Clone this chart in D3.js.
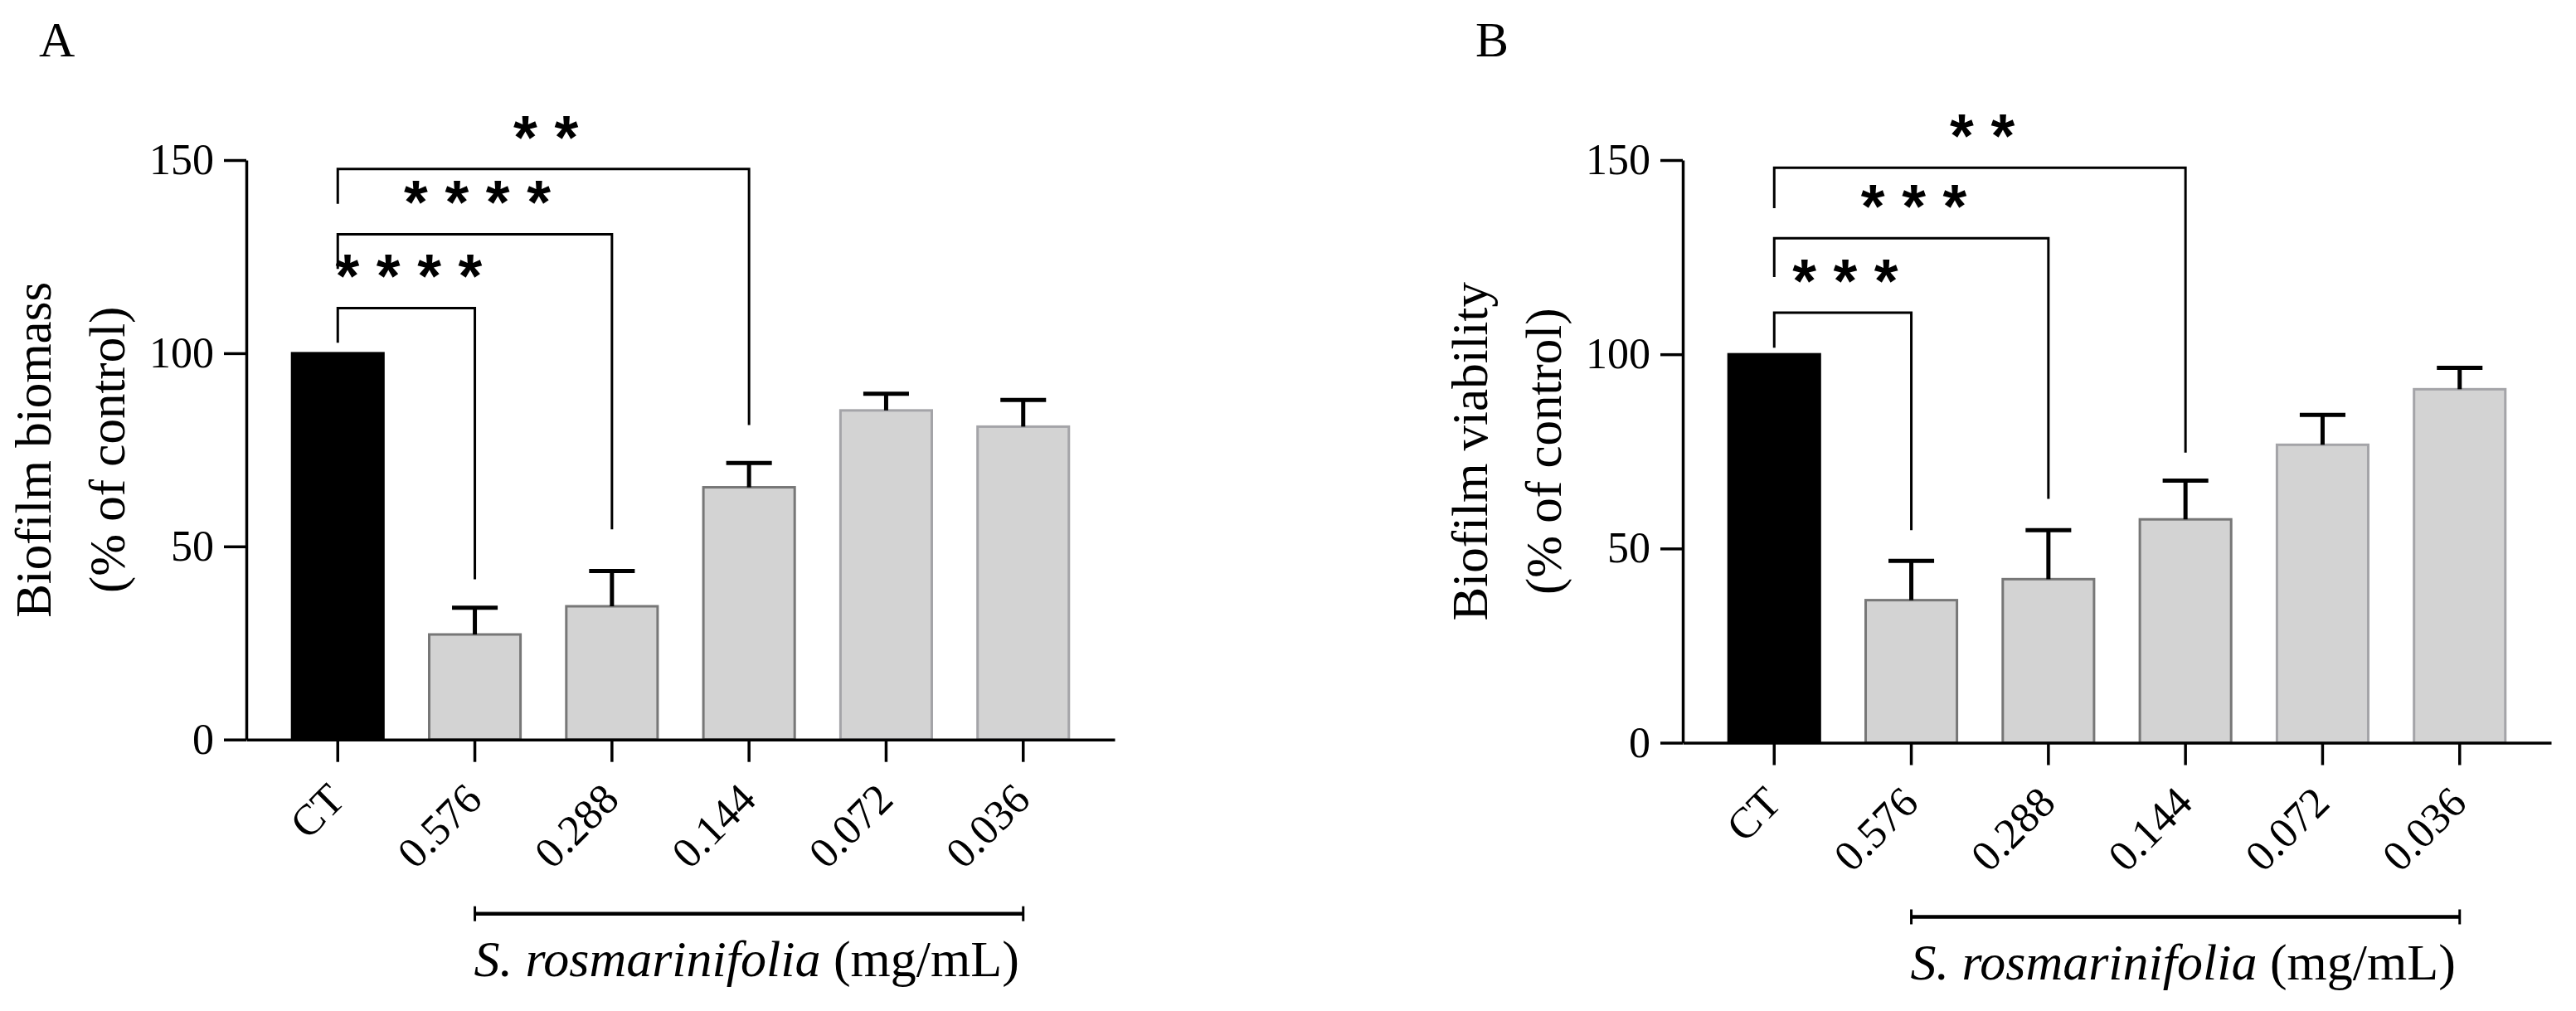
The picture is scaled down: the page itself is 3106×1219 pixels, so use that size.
<!DOCTYPE html>
<html>
<head>
<meta charset="utf-8">
<script src="https://cdn.jsdelivr.net/npm/d3@7"></script>
<style>
  body { margin: 0; background: #fff; }
  svg text { font-family: "Liberation Serif", serif; fill: #000; }
</style>
</head>
<body>
<svg id="chart" width="3106" height="1219"></svg>
<script>
// categories and tick labels
const categories = ["CT", "0.576", "0.288", "0.144", "0.072", "0.036"];
const yTicks = [0, 50, 100, 150];

// panel A - biofilm biomass (% of control)
const biomassMean = [100, 27.2, 34.5, 65.3, 85.2, 81.0];
const biomassErr = [0, 6.9, 9.1, 6.3, 4.3, 6.9];

// panel B - biofilm viability (% of control)
const viabilityMean = [100, 36.7, 42.1, 57.5, 76.7, 91.0];
const viabilityErr = [0, 10.1, 12.6, 10.0, 7.7, 5.5];

// significance brackets (CT vs each), values in y units
const bracketTargets = ["0.576", "0.288", "0.144"];
const biomassBracketY = [111.7, 130.8, 147.7];
const biomassBracketLeft = [102.7, 121.8, 138.7];
const biomassBracketRight = [41.5, 54.4, 81.4];
const biomassStars = ["****", "****", "**"];

const viabilityBracketY = [110.7, 129.9, 148.0];
const viabilityBracketLeft = [101.7, 119.9, 137.6];
const viabilityBracketRight = [54.7, 62.8, 74.7];
const viabilityStars = ["***", "***", "**"];

const svg = d3.select("#chart");

let drawPanel = (cfg) => {
    let g = svg.append("g").attr("transform", "translate(" + cfg.dx + ",0)");

    let x = d3.scaleBand()
        .domain(categories)
        .range([297, 1344])
        .padding(0.334);

    let y = d3.scaleLinear()
        .domain([0, 150])
        .range([cfg.y0, 193]);

    let bw = x.bandwidth();
    let cx = (c) => x(c) + bw / 2;

    // bars
    g.selectAll("rect.bar")
        .data(cfg.mean)
        .join("rect")
        .attr("class", "bar")
        .attr("x", (d, i) => x(categories[i]))
        .attr("width", bw)
        .attr("y", d => y(d))
        .attr("height", d => y(0) - y(d))
        .attr("fill", (d, i) => i === 0 ? "#000" : "#d3d3d3")
        .attr("stroke", (d, i) => i === 0 ? "#000" : (i < 4 ? "#777" : "#a4a4a8"))
        .attr("stroke-width", 3);

    // error bars (upper only)
    let errs = cfg.mean.map((m, i) => ({ c: categories[i], m: m, e: cfg.err[i] })).filter(d => d.e > 0);
    g.selectAll("line.err")
        .data(errs)
        .join("line")
        .attr("class", "err")
        .attr("x1", d => cx(d.c)).attr("x2", d => cx(d.c))
        .attr("y1", d => y(d.m)).attr("y2", d => y(d.m + d.e))
        .attr("stroke", "#000").attr("stroke-width", 5);
    g.selectAll("line.cap")
        .data(errs)
        .join("line")
        .attr("class", "cap")
        .attr("x1", d => cx(d.c) - bw / 4).attr("x2", d => cx(d.c) + bw / 4)
        .attr("y1", d => y(d.m + d.e)).attr("y2", d => y(d.m + d.e))
        .attr("stroke", "#000").attr("stroke-width", 5);

    // y axis
    let yAxis = g.append("g")
        .attr("transform", "translate(297,0)")
        .call(d3.axisLeft(y).tickValues(yTicks).tickSize(27).tickSizeOuter(0).tickPadding(12));
    yAxis.select(".domain").attr("stroke-width", 3.5);
    yAxis.selectAll(".tick line").attr("stroke-width", 3.5);
    yAxis.selectAll("text")
        .attr("font-size", 52)
        .style("font-family", "Liberation Serif");

    // x axis
    let xAxis = g.append("g")
        .attr("transform", "translate(0," + cfg.y0 + ")")
        .call(d3.axisBottom(x).tickSize(27).tickSizeOuter(0));
    xAxis.select(".domain").attr("stroke-width", 3.5);
    xAxis.selectAll(".tick line").attr("stroke-width", 3.5);
    xAxis.selectAll("text")
        .attr("y", 0)
        .attr("dy", null)
        .attr("text-anchor", "end")
        .attr("transform", "translate(11,75) rotate(-45)")
        .attr("font-size", 52)
        .style("font-family", "Liberation Serif");

    // significance brackets
    bracketTargets.forEach((t, i) => {
        let x1 = cx("CT"), x2 = cx(t);
        let path = d3.path();
        path.moveTo(x1, y(cfg.bLeft[i]));
        path.lineTo(x1, y(cfg.bY[i]));
        path.lineTo(x2, y(cfg.bY[i]));
        path.lineTo(x2, y(cfg.bRight[i]));
        g.append("path")
            .attr("d", path.toString())
            .attr("fill", "none")
            .attr("stroke", "#000")
            .attr("stroke-width", 3);
        g.append("text")
            .attr("x", (x1 + x2) / 2 + 3)
            .attr("y", y(cfg.bY[i]) - 13)
            .attr("text-anchor", "middle")
            .attr("font-size", 74)
            .attr("font-weight", "bold")
            .style("font-family", "Liberation Sans")
            .text(cfg.stars[i].split("").join(" "));
    });

    // concentration range bar under the axis
    let lx1 = cx(categories[1]), lx2 = cx(categories[categories.length - 1]);
    let ly = cfg.y0 + 210;
    g.append("line")
        .attr("x1", lx1).attr("x2", lx2).attr("y1", ly).attr("y2", ly)
        .attr("stroke", "#000").attr("stroke-width", 4.5);
    [lx1, lx2].forEach(px => {
        g.append("line")
            .attr("x1", px).attr("x2", px).attr("y1", ly - 9).attr("y2", ly + 9)
            .attr("stroke", "#000").attr("stroke-width", 3);
    });
    let cap = g.append("text")
        .attr("x", (lx1 + lx2) / 2 - 3)
        .attr("y", cfg.y0 + 285)
        .attr("text-anchor", "middle")
        .attr("font-size", 62);
    cap.append("tspan").attr("font-style", "italic").text("S. rosmarinifolia");
    cap.append("tspan").text(" (mg/mL)");

    // y axis title
    let mid = (y(0) + y(150)) / 2;
    g.append("text")
        .attr("transform", "translate(61," + mid + ") rotate(-90)")
        .attr("text-anchor", "middle")
        .attr("font-size", 61)
        .text(cfg.title1);
    g.append("text")
        .attr("transform", "translate(150," + mid + ") rotate(-90)")
        .attr("text-anchor", "middle")
        .attr("font-size", 61)
        .text("(% of control)");

    // panel letter
    g.append("text")
        .attr("x", 47)
        .attr("y", 68)
        .attr("font-size", 60)
        .text(cfg.letter);
};

drawPanel({ dx: 0, y0: 891.7, letter: "A", title1: "Biofilm biomass",
    mean: biomassMean, err: biomassErr,
    bY: biomassBracketY, bLeft: biomassBracketLeft, bRight: biomassBracketRight, stars: biomassStars });

drawPanel({ dx: 1732, y0: 895.5, letter: "B", title1: "Biofilm viability",
    mean: viabilityMean, err: viabilityErr,
    bY: viabilityBracketY, bLeft: viabilityBracketLeft, bRight: viabilityBracketRight, stars: viabilityStars });
</script>
</body>
</html>
